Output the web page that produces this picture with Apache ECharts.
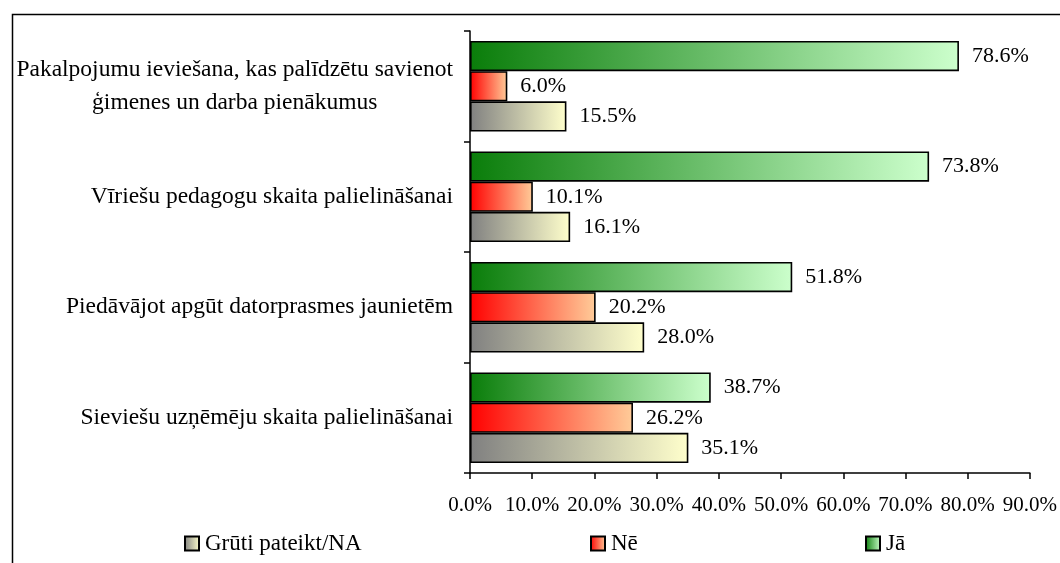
<!DOCTYPE html>
<html>
<head>
<meta charset="utf-8">
<script src="https://cdn.jsdelivr.net/npm/echarts@6/dist/echarts.min.js"></script>
<style>
  html, body { margin: 0; padding: 0; background: #fff; }
  #chart { width: 1060px; height: 563px; }
</style>
</head>
<body>
<div id="chart"></div>
<script>
// Survey answers per measure, listed bottom to top as drawn
const categories = [
  'Sieviešu uzņēmēju skaita palielināšanai',
  'Piedāvājot apgūt datorprasmes jaunietēm',
  'Vīriešu pedagogu skaita palielināšanai',
  'Pakalpojumu ieviešana, kas palīdzētu savienot\nģimenes un darba pienākumus'
];
const legendNames = ['Grūti pateikt/NA', 'Nē', 'Jā'];
const gruti = [35.1, 28.0, 16.1, 15.5];
const ne = [26.2, 20.2, 10.1, 6.0];
const ja = [38.7, 51.8, 73.8, 78.6];
const xTicks = [0, 10, 20, 30, 40, 50, 60, 70, 80, 90];

const FONT = '"Liberation Serif", "Times New Roman", serif';

function grad(from, to) {
  return new echarts.graphic.LinearGradient(0, 0, 1, 0, [
    { offset: 0, color: from },
    { offset: 1, color: to }
  ]);
}

// Series listed top bar first within each group
const seriesDefs = [
  { name: 'Jā', data: ja, fill: grad('#0a7d0a', '#ccffcc') },
  { name: 'Nē', data: ne, fill: grad('#ff0000', '#ffcc99') },
  { name: 'Grūti pateikt/NA', data: gruti, fill: grad('#808080', '#ffffcc') }
];

const chart = echarts.init(document.getElementById('chart'), null, { renderer: 'canvas' });

const series = seriesDefs.map(d => ({
  name: d.name,
  type: 'bar',
  data: d.data,
  barGap: '0%',
  barCategoryGap: '18%',
  itemStyle: { color: d.fill, borderColor: '#000', borderWidth: 1.6 },
  label: {
    show: true,
    position: 'right',
    distance: 13,
    formatter: p => p.value.toFixed(1) + '%',
    color: '#000',
    fontFamily: FONT,
    fontSize: 22
  },
  emphasis: { disabled: true },
  animation: false
}));

const legendLefts = [184, 590, 865];
const legends = legendNames.map((n, i) => ({
  data: [n],
  left: legendLefts[i],
  top: 532,
  padding: 0,
  itemWidth: 14,
  itemHeight: 14,
  icon: 'rect',
  textStyle: { fontFamily: FONT, fontSize: 23, color: '#000', padding: [0, 0, 0, 1] }
}));

chart.setOption({
  backgroundColor: '#fff',
  animation: false,
  grid: { left: 470, right: 26, top: 31, height: 442, containLabel: false },
  xAxis: {
    type: 'value',
    min: xTicks[0],
    max: xTicks[xTicks.length - 1],
    interval: xTicks[1] - xTicks[0],
    axisLine: { show: true, lineStyle: { color: '#000', width: 1.5 } },
    axisTick: { show: true, length: 6, lineStyle: { color: '#000', width: 1.5 } },
    splitLine: { show: false },
    axisLabel: {
      margin: 22,
      fontFamily: FONT,
      fontSize: 21,
      color: '#000',
      formatter: v => v.toFixed(1) + '%'
    }
  },
  yAxis: {
    type: 'category',
    data: categories,
    axisLine: { show: true, lineStyle: { color: '#000', width: 1.5 } },
    axisTick: { show: true, length: 6, lineStyle: { color: '#000', width: 1.5 } },
    axisLabel: {
      margin: 17,
      align: 'right',
      color: '#000',
      formatter: v => v.split('\n').map(s => '{c|' + s + '}').join('\n'),
      rich: {
        c: {
          align: 'center',
          fontFamily: FONT,
          fontSize: 23.5,
          lineHeight: 33,
          color: '#000'
        }
      }
    }
  },
  legend: legends,
  graphic: [{
    type: 'rect',
    left: 10,
    top: 12,
    shape: { width: 1100, height: 600 },
    style: { fill: 'none', stroke: '#000', lineWidth: 1.5 },
    silent: true
  }],
  series: series
});
</script>
</body>
</html>
